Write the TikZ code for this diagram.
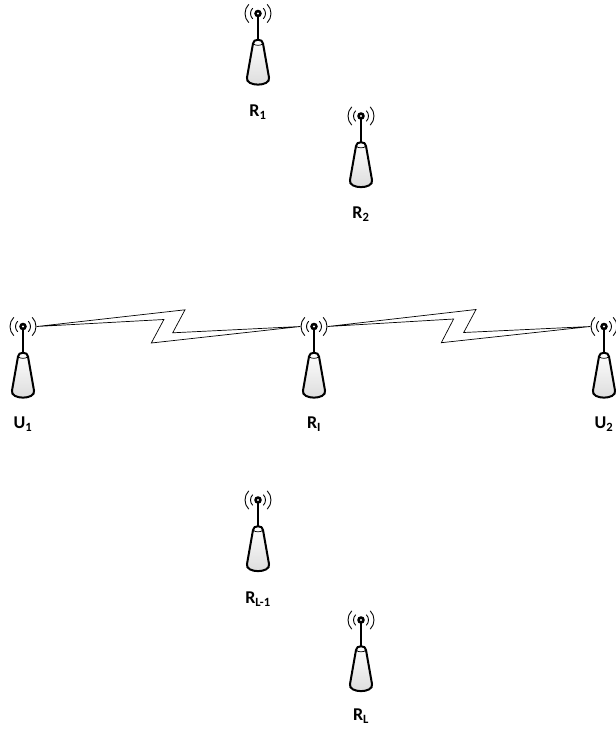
\documentclass[tikz,border=0pt]{standalone}
\usepackage{fontspec}
\setmainfont{Carlito}
\usetikzlibrary{positioning}
\tikzset{
  ant/.style={circle,inner sep=0pt,minimum size=27pt},
  lbl/.style={font=\fontsize{18}{20}\selectfont\bfseries},
  link/.style={line width=0.7pt,line join=miter},
  antenna/.pic={
    \fill[black] (0,0) circle (3.8);
    \fill[white] (0,0) circle (1.2);
    \draw[line width=2pt] (0,3) -- (0,26);
    \draw[line width=2pt,bottom color=gray!28,top color=white]
      (-5,30) .. controls (-5,25) and (5,25) .. (5,30)
      -- (11,64) .. controls (13,73.5) and (-13,73.5) .. (-11,64) -- cycle;
    \draw[line width=0.7pt] (-5,30) .. controls (-3,32.5) and (3,32.5) .. (5,30);
    \foreach \r in {7.5,13} {
      \draw[line width=0.9pt] (135:\r) arc[start angle=135,end angle=225,radius=\r];
      \draw[line width=0.9pt] (45:\r) arc[start angle=45,end angle=-45,radius=\r];
    }
  }
}
\begin{document}
\begin{tikzpicture}[x=1pt,y=-1pt]
\useasboundingbox (0,0) rectangle (616,732);
\foreach \nm/\x/\y in {R1/258/13.5,R2/361/116,U1/23/326.5,RI/314/326.5,U2/604/326.5,RLm/258/500,RL/361/620} {
  \pic at (\x,\y) {antenna};
  \node[ant] (\nm) at (\x,\y) {};
}
\node[lbl] (labR1) at (258,112) {R\textsubscript{1}};
\node[lbl] (labR2) at (361,214) {R\textsubscript{2}};
\node[lbl] (labU1) at (23,424) {U\textsubscript{1}};
\node[lbl] (labRI) at (314,424) {R\textsubscript{I}};
\node[lbl] (labU2) at (604,424) {U\textsubscript{2}};
\node[lbl] (labRLm) at (258,599) {R\textsubscript{L-1}};
\node[lbl] (labRL) at (361,716) {R\textsubscript{L}};
% zigzag links
\draw[link] (U1.east) -- ++(148.3,-16.7) -- ++(-12.3,23) -- (RI.west) -- ++(-149,16.5) -- ++(12.6,-23.5) -- cycle;
\draw[link] (RI.east) -- ++(148.3,-17) -- ++(-12.3,23) -- (U2.west) -- ++(-149,16.2) -- ++(12.3,-23.7) -- cycle;
\end{tikzpicture}
\end{document}
